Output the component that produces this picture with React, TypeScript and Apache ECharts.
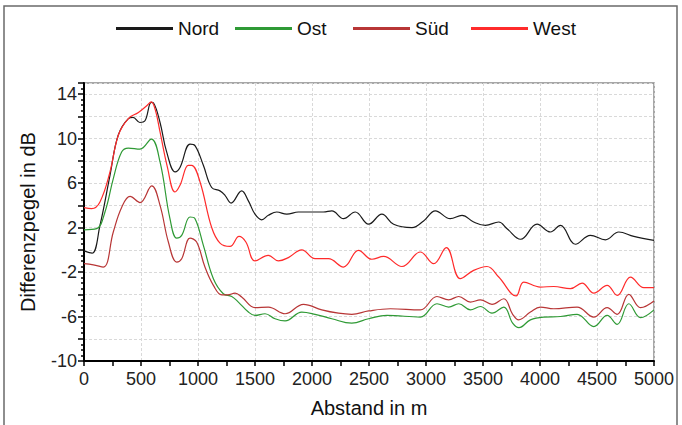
import React, { useEffect, useRef } from "react";
import * as echarts from "echarts";

const seriesNames = ["Nord", "Ost", "Süd", "West"];
const seriesColors = ["#1a1a1a", "#2f9a35", "#b83636", "#ff2b2b"];
const legendLefts = [116, 235, 353, 471];

const nord: number[][] = [
  [0, -0.1], [70, -0.3], [140, 2.2], [228, 6.7], [300, 10.3], [390, 11.8], [430, 11.9], [490, 11.45],
  [535, 11.6], [590, 13.25], [610, 13.2], [667, 11.45], [725, 8.8], [800, 7.0], [842, 7.4], [930, 9.5],
  [975, 9.35], [1047, 7.6], [1120, 5.6], [1193, 5.3], [1237, 4.9], [1290, 4.2], [1383, 5.3], [1442, 4.4],
  [1500, 3.2], [1559, 2.7], [1617, 3.1], [1691, 3.4], [1779, 3.2], [1881, 3.4], [2000, 3.4], [2100, 3.4],
  [2174, 3.5], [2276, 2.8], [2379, 3.4], [2496, 2.3], [2613, 3.2], [2716, 2.3], [2877, 2.0], [2979, 2.6],
  [3082, 3.5], [3213, 2.8], [3316, 3.1], [3418, 2.5], [3521, 2.2], [3638, 2.5], [3711, 1.9], [3830, 0.95],
  [3974, 2.3], [4091, 1.6], [4179, 2.2], [4311, 0.5], [4442, 1.3], [4574, 0.9], [4691, 1.6], [4823, 1.2],
  [5000, 0.85],
];

const ost: number[][] = [
  [0, 1.8], [111, 1.9], [184, 3.4], [257, 6.4], [330, 8.8], [389, 9.15], [491, 9.05], [590, 9.95],
  [667, 7.9], [754, 2.8], [813, 1.05], [857, 1.3], [930, 2.95], [974, 2.8], [1047, 0.4], [1135, -2.6],
  [1222, -3.95], [1296, -4.2], [1354, -4.7], [1442, -5.6], [1500, -5.9], [1588, -5.75], [1676, -6.2],
  [1764, -6.4], [1910, -5.6], [2027, -5.8], [2174, -6.2], [2349, -6.6], [2496, -6.2], [2657, -5.9],
  [2950, -6.05], [3096, -4.85], [3199, -5.15], [3287, -4.85], [3389, -5.4], [3477, -5.1], [3579, -5.7],
  [3682, -5.15], [3760, -6.6], [3815, -7.0], [3916, -6.3], [4033, -6.05], [4179, -6.0], [4325, -5.8],
  [4472, -6.9], [4589, -5.9], [4677, -6.7], [4779, -4.85], [4882, -6.1], [5000, -5.4],
];

const sued: number[][] = [
  [0, -1.25], [82, -1.35], [170, -1.55], [257, 1.6], [330, 3.8], [404, 4.8], [491, 4.25], [594, 5.75],
  [667, 4.0], [740, 0.7], [813, -1.1], [857, -0.8], [930, 1.05], [988, 0.7], [1061, -1.55], [1135, -3.2],
  [1208, -4.05], [1260, -4.05], [1325, -3.9], [1383, -4.25], [1500, -5.2], [1617, -5.15], [1764, -5.75],
  [1925, -4.9], [2086, -5.4], [2232, -5.7], [2349, -5.8], [2496, -5.5], [2687, -5.3], [2950, -5.4],
  [3096, -4.2], [3199, -4.5], [3287, -4.2], [3389, -4.7], [3477, -4.5], [3579, -4.9], [3682, -4.4],
  [3760, -5.8], [3813, -6.3], [3916, -5.6], [4003, -5.15], [4120, -5.3], [4325, -5.15], [4472, -6.05],
  [4589, -5.2], [4677, -5.8], [4779, -4.0], [4882, -5.2], [5000, -4.6],
];

const west: number[][] = [
  [0, 3.8], [67, 3.7], [140, 4.3], [228, 7.0], [301, 10.3], [389, 11.8], [477, 12.35], [550, 12.95],
  [590, 13.3], [625, 12.6], [667, 10.6], [730, 7.5], [798, 5.2], [842, 5.8], [915, 7.6], [944, 7.6],
  [1018, 6.1], [1120, 2.0], [1193, 0.6], [1281, 0.3], [1360, 1.2], [1420, 0.7], [1500, -1.0], [1617, -0.5],
  [1705, -1.0], [1793, -0.7], [1910, 0.0], [2027, -0.8], [2144, -0.8], [2276, -1.55], [2408, -0.05],
  [2525, -0.85], [2628, -0.6], [2789, -1.5], [2950, -0.2], [3067, -1.25], [3178, 0.2], [3301, -2.6],
  [3418, -1.85], [3535, -1.5], [3638, -2.45], [3790, -4.15], [3857, -2.9], [4003, -3.35], [4120, -3.3],
  [4267, -3.5], [4369, -3.0], [4472, -3.9], [4589, -3.2], [4677, -4.1], [4794, -2.45], [4911, -3.4],
  [5000, -3.4],
];

const seriesData = [nord, ost, sued, west];

const xTitle = "Abstand in m";
const yTitle = "Differenzpegel in dB";

const FONT = "'Liberation Sans', Arial, sans-serif";

export default function App() {
  const ref = useRef<HTMLDivElement>(null);

  useEffect(() => {
    if (!ref.current) return;
    const chart = echarts.init(ref.current, undefined, { renderer: "svg" });
    chart.setOption({
      animation: false,
      backgroundColor: "#ffffff",
      textStyle: { fontFamily: FONT },
      graphic: [
        {
          type: "rect",
          shape: { x: 4, y: 6, width: 673, height: 440 },
          style: { fill: "none", stroke: "#6a6a6a", lineWidth: 1.5 },
          silent: true,
        },
      ],
      legend: seriesNames.map((name, i) => ({
        left: legendLefts[i],
        top: 19,
        padding: 0,
        icon: "rect",
        itemWidth: 57,
        itemHeight: 3,
        data: [name],
        textStyle: { fontFamily: FONT, fontSize: 19, color: "#111" },
      })),
      grid: {
        left: 84,
        top: 83,
        right: 28,
        bottom: 64,
        show: true,
        borderColor: "#8a8a8a",
        borderWidth: 1.5,
      },
      xAxis: {
        type: "value",
        min: 0,
        max: 5000,
        interval: 500,
        name: xTitle,
        nameLocation: "middle",
        nameGap: 37,
        nameTextStyle: { fontFamily: FONT, fontSize: 20, color: "#111" },
        axisLine: { show: true, onZero: false, lineStyle: { color: "#000", width: 2 } },
        axisTick: { show: true, length: 5, lineStyle: { color: "#000", width: 1.5 } },
        minorTick: { show: true, splitNumber: 2, length: 5, lineStyle: { color: "#000", width: 1.5 } },
        axisLabel: {
          fontFamily: FONT,
          fontSize: 18,
          color: "#222",
          margin: 9,
          formatter: (v: number) => String(v),
        },
        splitLine: { show: true, lineStyle: { color: "#d9d9d9", type: [3, 2], width: 1 } },
      },
      yAxis: {
        type: "value",
        min: -10,
        max: 15,
        interval: 2,
        name: yTitle,
        nameLocation: "middle",
        nameGap: 46,
        nameTextStyle: { fontFamily: FONT, fontSize: 20, color: "#111" },
        axisLine: { show: true, onZero: false, lineStyle: { color: "#000", width: 2 } },
        axisTick: { show: true, length: 6, lineStyle: { color: "#000", width: 1.5 } },
        minorTick: { show: true, splitNumber: 4, length: 3, lineStyle: { color: "#000", width: 1.5 } },
        axisLabel: {
          fontFamily: FONT,
          fontSize: 18,
          color: "#222",
          margin: 7,
          formatter: (v: number) => ((v + 10) % 4 === 0 && v <= 14 ? String(v) : ""),
        },
        splitLine: { show: true, lineStyle: { color: "#d9d9d9", type: [3, 2], width: 1 } },
      },
      series: seriesNames.map((name, i) => ({
        name,
        type: "line",
        data: seriesData[i],
        smooth: 0.4,
        showSymbol: false,
        symbol: "none",
        lineStyle: { color: seriesColors[i], width: 1.2 },
        itemStyle: { color: seriesColors[i] },
      })),
    });
    return () => chart.dispose();
  }, []);

  return (
    <div
      ref={ref}
      style={{ position: "fixed", left: 0, top: 0, width: 682, height: 425, background: "#fff" }}
    />
  );
}
